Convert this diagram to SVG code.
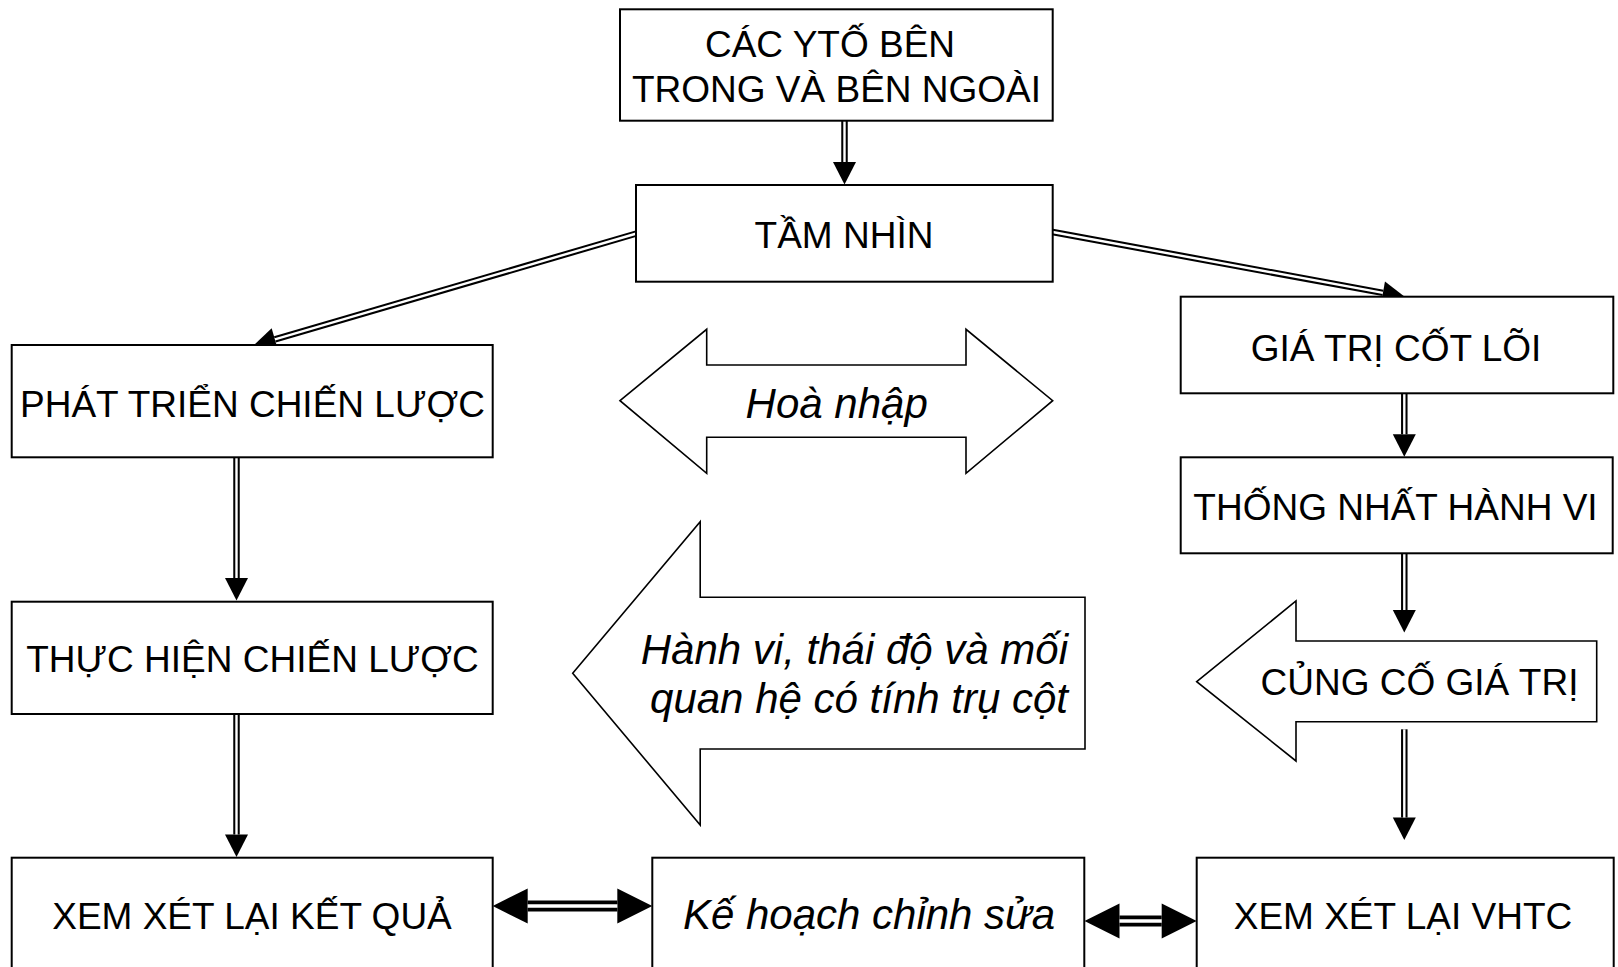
<svg xmlns="http://www.w3.org/2000/svg" width="1618" height="967" viewBox="0 0 1618 967">
<style>
.box{fill:#fff;stroke:#000;stroke-width:2}
.shape{fill:#fff;stroke:#000;stroke-width:1.6;stroke-linejoin:miter}
.t{font-family:"Liberation Sans",Arial,sans-serif;font-size:37px;fill:#000;text-anchor:middle}
.ti{font-family:"Liberation Sans",Arial,sans-serif;font-size:42px;font-style:italic;fill:#000;text-anchor:middle}
.dl{fill:none;stroke:#000;stroke-width:6.5;marker-end:url(#ah)}
.dw{fill:none;stroke:#fff;stroke-width:2.4}
.bl{fill:none;stroke:#000;stroke-width:11;marker-start:url(#ah2);marker-end:url(#ah2)}
.bw{fill:none;stroke:#fff;stroke-width:3.5}
</style>
<defs>
<marker id="ah" markerUnits="userSpaceOnUse" viewBox="0 -12 23 24" markerWidth="23" markerHeight="24" refX="0" refY="0" orient="auto" overflow="visible">
<path d="M0,-11.5 L22.5,0 L0,11.5 Z" fill="#000"/>
</marker>
<marker id="ah2" markerUnits="userSpaceOnUse" viewBox="0 -18 36 36" markerWidth="36" markerHeight="36" refX="0" refY="0" orient="auto-start-reverse" overflow="visible">
<path d="M0,-17.5 L35,0 L0,17.5 Z" fill="#000"/>
</marker>
</defs>
<rect width="1618" height="967" fill="#fff"/>

<g id="connectors">
<path class="dl" d="M844.5,121 L844.5,162"/><path class="dw" d="M844.5,121 L844.5,162"/>
<path class="dl" d="M636.5,233.5 L274.9,339.4"/><path class="dw" d="M636.5,233.5 L274.9,339.4"/>
<path class="dl" d="M1052.5,232 L1382.9,292.9"/><path class="dw" d="M1052.5,232 L1382.9,292.9"/>
<path class="dl" d="M1404.3,393.3 L1404.3,434.2"/><path class="dw" d="M1404.3,393.3 L1404.3,434.2"/>
<path class="dl" d="M1404.3,553.3 L1404.3,610"/><path class="dw" d="M1404.3,553.3 L1404.3,610"/>
<path class="dl" d="M1404.3,729.3 L1404.3,817.5"/><path class="dw" d="M1404.3,729.3 L1404.3,817.5"/>
<path class="dl" d="M236.5,457.3 L236.5,578"/><path class="dw" d="M236.5,457.3 L236.5,578"/>
<path class="dl" d="M236.5,714 L236.5,834.5"/><path class="dw" d="M236.5,714 L236.5,834.5"/>
<path class="bl" d="M527.7,906 L617.3,906"/><path class="bw" d="M527.7,906 L617.3,906"/>
<path class="bl" d="M1119.5,921 L1161.7,921"/><path class="bw" d="M1119.5,921 L1161.7,921"/>
</g>

<g id="n-cac-yto">
<rect class="box" x="620" y="9.3" width="432.7" height="111.4"/>
<text class="t" x="830" y="56.7">CÁC YTỐ BÊN</text>
<text class="t" x="836.5" y="101.7">TRONG VÀ BÊN NGOÀI</text>
</g>
<g id="n-tam-nhin">
<rect class="box" x="636" y="185" width="416.7" height="96.7"/>
<text class="t" x="844" y="248">TẦM NHÌN</text>
</g>
<g id="n-phat-trien">
<rect class="box" x="11.7" y="345" width="481" height="112.3"/>
<text class="t" x="252.5" y="417.3">PHÁT TRIỂN CHIẾN LƯỢC</text>
</g>
<g id="n-thuc-hien">
<rect class="box" x="11.7" y="601.7" width="481" height="112.3"/>
<text class="t" x="252.5" y="672.3">THỰC HIỆN CHIẾN LƯỢC</text>
</g>
<g id="n-xem-kq">
<rect class="box" x="11.7" y="857.7" width="481" height="130"/>
<text class="t" x="252" y="929.3">XEM XÉT LẠI KẾT QUẢ</text>
</g>
<g id="n-ke-hoach">
<rect class="box" x="652.3" y="857.7" width="432" height="130"/>
<text class="ti" x="869" y="929.3">Kế hoạch chỉnh sửa</text>
</g>
<g id="n-xem-vhtc">
<rect class="box" x="1196.7" y="857.7" width="417" height="130"/>
<text class="t" x="1403" y="929.3">XEM XÉT LẠI VHTC</text>
</g>
<g id="n-gia-tri">
<rect class="box" x="1180.7" y="296.7" width="432.6" height="96.6"/>
<text class="t" x="1396" y="361">GIÁ TRỊ CỐT LÕI</text>
</g>
<g id="n-thong-nhat">
<rect class="box" x="1180.7" y="457.3" width="432" height="96"/>
<text class="t" x="1395.5" y="520">THỐNG NHẤT HÀNH VI</text>
</g>
<g id="n-hoa-nhap">
<polygon class="shape" points="620,400.7 706.7,329.3 706.7,365 966,365 966,329.3 1052.7,400.7 966,473.3 966,437.3 706.7,437.3 706.7,473.3"/>
<text class="ti" x="836.7" y="418.3">Hoà nhập</text>
</g>
<g id="n-hanh-vi">
<polygon class="shape" points="572.7,673.3 700.2,521.7 700.2,597.3 1085,597.3 1085,749 700.2,749 700.2,825"/>
<text class="ti" x="1068" y="664" style="text-anchor:end">Hành vi, thái độ và mối</text>
<text class="ti" x="1068" y="713.3" style="text-anchor:end">quan hệ có tính trụ cột</text>
</g>
<g id="n-cung-co">
<polygon class="shape" points="1196.7,681.7 1296,601 1296,641 1596.7,641 1596.7,721.7 1296,721.7 1296,761"/>
<text class="t" x="1419.5" y="695">CỦNG CỐ GIÁ TRỊ</text>
</g>
</svg>
